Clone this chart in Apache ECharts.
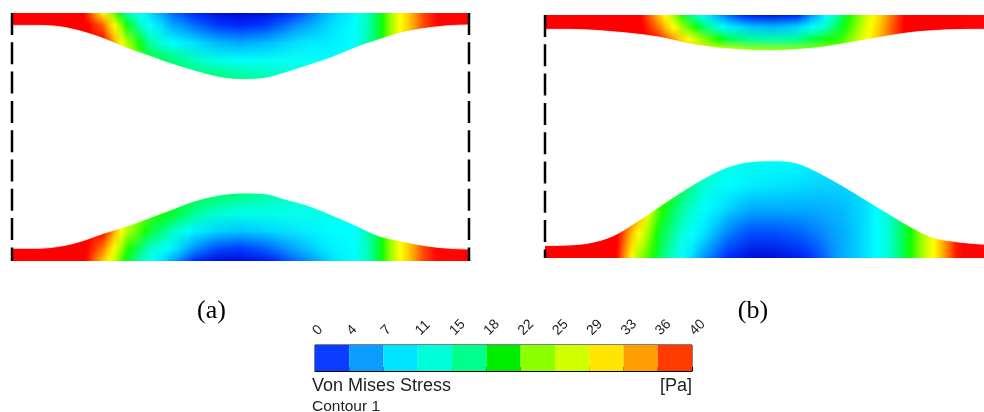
<!DOCTYPE html>
<html><head><meta charset="utf-8">
<script src="https://cdn.jsdelivr.net/npm/echarts@6/dist/echarts.min.js"></script>
<style>html,body{margin:0;padding:0;background:#fff}#c{width:984px;height:412px}</style>
</head><body><div id="c"></div>
<script>
// ---------------- DATA ----------------
// Sample positions along the channel (% of channel length)
const xPos = [0,5,10,15,20,25,30,35,40,45,50,55,60,65,70,75,80,85,90,95,100];
// Inner wall boundary: depth from the outer wall (% of channel height)
const aTopDepth = [5.0,5.0,5.4,7.3,10.3,14.1,17.3,20.6,23.4,25.8,26.8,26.4,24.0,21.0,17.9,14.1,10.9,8.1,6.3,5.2,4.8];
const aBotDepth = [5.1,5.1,5.8,7.9,11.1,14.0,17.3,20.8,24.2,26.4,27.4,27.2,24.8,22.2,18.5,14.5,10.3,8.1,6.3,5.2,4.8];
const bTopDepth = [5.9,5.9,6.2,6.9,7.8,9.1,11.2,12.9,13.9,14.5,14.7,14.2,13.4,11.9,10.3,8.6,7.2,6.4,6.0,5.9,5.9];
const bBotDepth = [5.1,5.3,6.3,9.2,14.8,21.1,27.3,32.9,37.4,39.6,40.0,39.1,35.0,29.8,24.1,18.4,12.8,8.4,6.7,5.8,5.3];
// Depth levels at which stress was sampled (% of channel height)
const aRows = [0,5,12,19,28];
const bTopRows = [0,5,10,15];
const bBotRows = [0,10,20,30,41];
// Von Mises stress (Pa): one list per x position, one value per depth level
const aTopStress = [
 [40,40,40,40,40],[40,40,40,40,40],[40,40,40,40,40],[40,40,40,40,40],
 [27,34,38,38,38],[15,19,24,25,25],[9,11,15,18,18],[5,7,11,16,17],
 [3,5,9,14,17],[1,3.5,7.5,12,17],[0.5,3,7,11,16],[1,3.5,7.5,11.5,15],
 [2.5,5,8.5,11.5,14],[5,7,9.5,11.5,12.5],[8,9,10,11,11],[10.5,11,11,11,11],
 [17,17,17,17,17],[27,27,27,27,27],[35,35,35,35,35],[40,40,40,40,40],[40,40,40,40,40]
];
const aBotStress = [
 [40,40,40,40,40],[40,40,40,40,40],[40,40,40,40,40],[40,40,40,40,40],
 [30,33,38,38,38],[18,20,24,26,26],[12,14,18,20,20],[7,10,14,18,18],
 [3,6,10,15,18],[1,4,8.5,13,17],[1,3.5,8,12,16],[2,4.5,8.5,12,15],
 [4,6,9,12,14],[6,8,10,12,13],[9,10,11,12,12],[11,11,11,11,11],
 [17,17,17,17,17],[27,27,27,27,27],[35,35,35,35,35],[40,40,40,40,40],[40,40,40,40,40]
];
const bTopStress = [
 [40,40,40,40],[40,40,40,40],[40,40,40,40],[40,40,40,40],[40,40,40,40],
 [30,33,37,37],[19,23,29,32],[10,16,22,28],[5,10,17,26],[2,8,15,24],
 [1.5,7.5,14.5,23.5],[2.5,8.5,15,23],[8,12,18,23],[17,18,20,23],[24,25,26,26],
 [32,33,33,33],[40,40,40,40],[40,40,40,40],[40,40,40,40],[40,40,40,40],[40,40,40,40]
];
const bBotStress = [
 [40,40,40,40,40],[40,40,40,40,40],[40,40,40,40,40],[40,40,40,40,40],
 [24,28,33,33,33],[17,18,20,21,21],[11,13,15,17,17],[6,9,11,13,14],
 [3,5.5,8.5,11,12.5],[1,4,7,10,12],[1,4,7,9.5,11.5],[2,4.5,7,9,11],
 [4,5.5,7,8.5,10],[7,7,7.5,8.5,9],[9,9,9,9,9],[13,13,13,13,13],
 [19,19,19,19,19],[27,27,27,27,27],[37,37,37,37,37],[40,40,40,40,40],[40,40,40,40,40]
];
// Colour legend
const levelLabels = ['0','4','7','11','15','18','22','25','29','33','36','40'];
const bandColors = ['#0a3dff','#0a9cff','#00e5ff','#00ffd8','#00ff8c','#00ee00','#8cff00','#d0ff00','#ffe500','#ff9e00','#ff3b00'];

// ---------------- STYLE / LAYOUT ----------------
const rampStops = [[0,'#0000c8'],[3,'#0028ff'],[6,'#0090ff'],[9,'#00e0ff'],[11,'#00ffff'],[14,'#00ffc0'],
  [17,'#00ff50'],[19,'#10ff00'],[22,'#80ff00'],[25,'#d8ff00'],[27,'#ffff00'],[30,'#ffc800'],
  [33,'#ff8000'],[36,'#ff3000'],[38,'#ff0000'],[40,'#ff0000']];
function hex(c){return [parseInt(c.slice(1,3),16),parseInt(c.slice(3,5),16),parseInt(c.slice(5,7),16)];}
const rampRGB = rampStops.map(s=>[s[0],hex(s[1])]);
function ramp(v){
  if (v<=rampRGB[0][0]) return 'rgb('+rampRGB[0][1].join(',')+')';
  for (let i=1;i<rampRGB.length;i++){
    if (v<=rampRGB[i][0]){
      const a=rampRGB[i-1], b=rampRGB[i], t=(v-a[0])/(b[0]-a[0]);
      const c=a[1].map((q,k)=>Math.round(q+(b[1][k]-q)*t));
      return 'rgb('+c.join(',')+')';
    }
  }
  return 'rgb('+rampRGB[rampRGB.length-1][1].join(',')+')';
}

// panel boxes (pixels) : channel spans y 0..100 and x 0..xMax
const panelA = {left:12, top:13, width:457, height:248, xMax:100};
const panelB = {left:545, top:15, width:439, height:243, xMax:96.06};
const MASK_PAD = 3;

const grids = [], xAxes = [], yAxes = [], series = [];
function addGrid(box, yMin, yMax, xMax, extra){
  const h = box.height*(yMax-yMin)/100;
  const top = box.top + box.height*(100-yMax)/100;
  grids.push(Object.assign({left:box.left, top, width:box.width, height:h, outerBoundsMode:'none'}, extra||{}));
  const g = grids.length-1;
  xAxes.push({type:'value', gridIndex:g, min:0, max:xMax, show:false});
  yAxes.push({type:'value', gridIndex:g, min:yMin, max:yMax, show:false});
  return g;
}

function addWall(box, rows, stress, depth, isTop){
  const dMax = rows[rows.length-1] + MASK_PAD;
  const g = isTop ? addGrid(box, 100-dMax, 100, box.xMax) : addGrid(box, 0, dMax, box.xMax);
  const yOf = d => isTop ? 100-d : d;
  series.push({
    type:'custom', xAxisIndex:g, yAxisIndex:g, clip:true, z:1, silent:true,
    data: xPos.slice(0,-1).map((x,i)=>[x,i]),
    renderItem(params, api){
      const i = params.dataIndex;
      const pL = api.coord([xPos[i],yOf(0)])[0], pR = api.coord([xPos[i+1],yOf(0)])[0];
      const n = Math.max(1, Math.ceil(pR-pL));
      const yS = api.coord([0,yOf(rows[0])])[1];
      const yE = api.coord([0,yOf(rows[rows.length-1])])[1];
      const children = [];
      for (let k=0;k<n;k++){
        const f=(k+0.5)/n;
        const stops = rows.map((r,j)=>{
          const v = stress[i][j] + (stress[i+1][j]-stress[i][j])*f;
          const yy = api.coord([0,yOf(r)])[1];
          return {offset:(yy-yS)/(yE-yS), color:ramp(v)};
        });
        const xa = pL+(pR-pL)*k/n, xb = pL+(pR-pL)*(k+1)/n;
        children.push({type:'rect', shape:{x:xa, y:Math.min(yS,yE), width:xb-xa+0.7, height:Math.abs(yE-yS)},
          style:{fill:{type:'linear', x:0, y:yS, x2:0, y2:yE, global:true, colorStops:stops}}});
      }
      return {type:'group', children};
    }
  });
  // white fluid region beyond the inner wall boundary
  series.push({type:'line', xAxisIndex:g, yAxisIndex:g, data:xPos.map((x,i)=>[x,yOf(depth[i])]),
    smooth:0.35, symbol:'none', lineStyle:{color:'#fff', width:0.8}, z:3, silent:true,
    areaStyle:{color:'#ffffff', opacity:1, origin: isTop ? 'start' : 'end'}});
}
function addDashes(box, xs){
  const g = addGrid(box, 0, 100, box.xMax);
  xs.forEach(x=>series.push({type:'line', xAxisIndex:g, yAxisIndex:g, data:[[x,100],[x,0]], symbol:'none', clip:false, z:6, silent:true,
    lineStyle:{color:'#000', width:2.5, type:[22,7.3]}}));
}

addWall(panelA, aRows, aTopStress, aTopDepth, true);
addWall(panelA, aRows, aBotStress, aBotDepth, false);
addDashes(panelA, [0,100]);
addWall(panelB, bTopRows, bTopStress, bTopDepth, true);
addWall(panelB, bBotRows, bBotStress, bBotDepth, false);
addDashes(panelB, [0]);

// colour legend
grids.push({left:315, top:345, width:377, height:26, show:true, borderColor:'#000', borderWidth:1, backgroundColor:'transparent', outerBoundsMode:'none'});
const gL = grids.length-1;
xAxes.push({type:'value', gridIndex:gL, min:0, max:11, interval:1, position:'top',
  axisLine:{show:true, lineStyle:{color:'#000', width:1}},
  axisTick:{show:true, length:4, lineStyle:{color:'#000', width:1}},
  splitLine:{show:false},
  axisLabel:{show:true, rotate:45, margin:12, fontSize:14, color:'#1a1a1a', fontFamily:'"Liberation Sans", Arial, sans-serif',
    formatter:v=>levelLabels[Math.round(v)]}});
yAxes.push({type:'value', gridIndex:gL, min:0, max:1, show:false});
series.push({type:'custom', xAxisIndex:gL, yAxisIndex:gL, z:1, silent:true,
  data: bandColors.map((c,i)=>[i,i+1]),
  renderItem(params, api){
    const p0 = api.coord([api.value(0),0]), p1 = api.coord([api.value(1),1]);
    return {type:'rect', shape:{x:p0[0], y:p1[1], width:p1[0]-p0[0], height:p0[1]-p1[1]},
      style:{fill:bandColors[params.dataIndex]}};
  }});

const chart = echarts.init(document.getElementById('c'), null, {renderer:'canvas'});
chart.setOption({
  animation:false,
  backgroundColor:'#ffffff',
  grid:grids, xAxis:xAxes, yAxis:yAxes, series,
  graphic:[
    {type:'text', x:211.5, y:311, style:{text:'(a)', font:'26px "Liberation Serif", "Times New Roman", serif', fill:'#000', align:'center', verticalAlign:'middle'}},
    {type:'text', x:753, y:311, style:{text:'(b)', font:'26px "Liberation Serif", "Times New Roman", serif', fill:'#000', align:'center', verticalAlign:'middle'}},
    {type:'text', x:312, y:386, style:{text:'Von Mises Stress', font:'18px "Liberation Sans", Arial, sans-serif', fill:'#222', align:'left', verticalAlign:'middle'}},
    {type:'text', x:692, y:386, style:{text:'[Pa]', font:'18px "Liberation Sans", Arial, sans-serif', fill:'#222', align:'right', verticalAlign:'middle'}},
    {type:'text', x:312, y:406.5, style:{text:'Contour 1', font:'15.5px "Liberation Sans", Arial, sans-serif', fill:'#222', align:'left', verticalAlign:'middle'}}
  ]
});
</script></body></html>
